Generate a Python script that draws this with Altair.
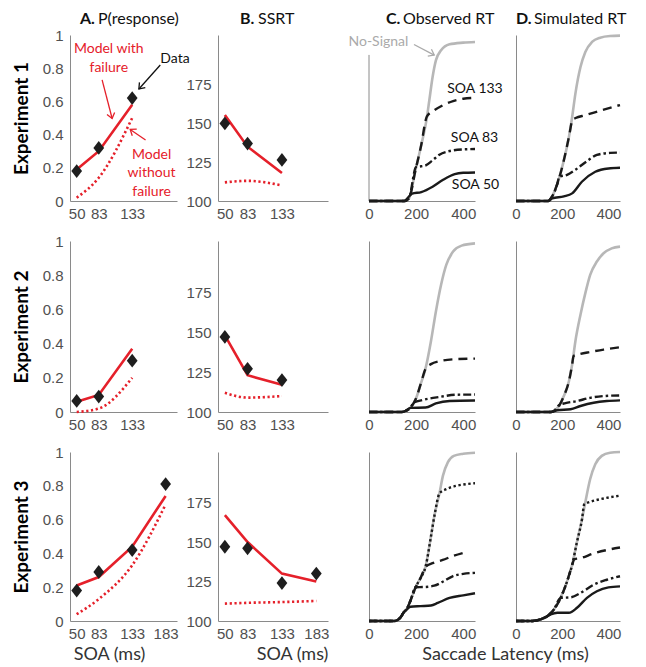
import math
import altair as alt
import pandas as pd

# ---------------- Columns A & B : summary values ----------------
SOA_E1 = [50, 83, 133]
SOA_E2 = [50, 83, 133]
SOA_E3 = [50, 83, 133, 183]

E1_P_DATA = [0.18, 0.32, 0.62]
E1_P_FAIL = [0.19, 0.30, 0.58]
E1_P_NOFAIL = [0.02, 0.14, 0.50]
E1_SSRT_DATA = [150, 137, 126.5]
E1_SSRT_FAIL = [155.5, 135, 118]
E1_SSRT_NOFAIL = [112, 113, 110]

E2_P_DATA = [0.065, 0.09, 0.30]
E2_P_FAIL = [0.06, 0.10, 0.37]
E2_P_NOFAIL = [0.0, 0.02, 0.20]
E2_SSRT_DATA = [147, 127, 120]
E2_SSRT_FAIL = [148, 123, 117]
E2_SSRT_NOFAIL = [112, 109, 110]

E3_P_DATA = [0.18, 0.29, 0.42, 0.81]
E3_P_FAIL = [0.21, 0.26, 0.44, 0.74]
E3_P_NOFAIL = [0.04, 0.13, 0.33, 0.69]
E3_SSRT_DATA = [147, 146, 124, 130]
E3_SSRT_FAIL = [167, 150, 130, 125]
E3_SSRT_NOFAIL = [111, 111.5, 112, 112.7]

# ---------------- Columns C & D : latency distributions ----------------
# Experiment 1, observed
C1_NS_T = [0, 150, 169, 198, 220, 246, 256, 270, 284, 306, 342, 400, 450]
C1_NS_P = [0, 0, 0.014, 0.19, 0.325, 0.505, 0.606, 0.747, 0.847, 0.908, 0.944, 0.954, 0.958]
C1_133_T = [0, 150, 169, 198, 220, 246, 277, 313, 357, 400, 450]
C1_133_P = [0, 0, 0.014, 0.19, 0.325, 0.51, 0.546, 0.576, 0.602, 0.616, 0.622]
C1_83_T = [0, 150, 169, 200, 222, 241, 270, 299, 342, 400, 450]
C1_83_P = [0, 0, 0.014, 0.205, 0.209, 0.215, 0.245, 0.279, 0.301, 0.311, 0.313]
C1_50_T = [0, 150, 164, 183, 222, 270, 313, 364, 400, 450]
C1_50_P = [0, 0, 0.018, 0.044, 0.054, 0.086, 0.126, 0.162, 0.17, 0.172]
# Experiment 1, simulated
D1_NS_T = [0, 140, 150, 179, 207, 229, 243, 257, 279, 300, 329, 364, 407, 450]
D1_NS_P = [0, 0, 0.014, 0.104, 0.245, 0.386, 0.506, 0.647, 0.807, 0.898, 0.958, 0.984, 0.994, 0.996]
D1_133_T = [0, 140, 150, 179, 207, 229, 245, 258, 300, 371, 450]
D1_133_P = [0, 0, 0.014, 0.104, 0.245, 0.386, 0.49, 0.50, 0.517, 0.547, 0.578]
D1_83_T = [0, 140, 150, 179, 187, 221, 264, 307, 350, 407, 450]
D1_83_P = [0, 0, 0.014, 0.104, 0.145, 0.158, 0.195, 0.24, 0.278, 0.29, 0.292]
D1_50_T = [0, 140, 157, 207, 243, 285, 343, 400, 450]
D1_50_P = [0, 0, 0.016, 0.028, 0.046, 0.116, 0.176, 0.196, 0.2]
# Experiment 2, observed
C2_NS_T = [0, 140, 155, 176, 198, 219, 241, 263, 284, 306, 328, 357, 393, 450]
C2_NS_P = [0, 0, 0.006, 0.025, 0.074, 0.161, 0.26, 0.414, 0.588, 0.744, 0.86, 0.938, 0.973, 0.986]
C2_133_T = [0, 140, 155, 176, 198, 219, 241, 263, 299, 357, 450]
C2_133_P = [0, 0, 0.006, 0.025, 0.074, 0.161, 0.255, 0.28, 0.297, 0.308, 0.312]
C2_83_T = [0, 140, 155, 176, 190, 227, 299, 371, 450]
C2_83_P = [0, 0, 0.006, 0.025, 0.055, 0.07, 0.088, 0.101, 0.102]
C2_50_T = [0, 140, 155, 176, 240, 284, 342, 450]
C2_50_P = [0, 0, 0.006, 0.024, 0.026, 0.05, 0.064, 0.067]
# Experiment 2, simulated
D2_NS_T = [0, 150, 164, 186, 207, 229, 243, 257, 279, 300, 321, 350, 379, 414, 450]
D2_NS_P = [0, 0, 0.006, 0.035, 0.093, 0.18, 0.278, 0.414, 0.569, 0.695, 0.802, 0.88, 0.928, 0.957, 0.967]
D2_133_T = [0, 150, 164, 186, 207, 229, 243, 249, 279, 321, 379, 450]
D2_133_P = [0, 0, 0.006, 0.035, 0.093, 0.18, 0.278, 0.328, 0.34, 0.351, 0.365, 0.379]
D2_83_T = [0, 150, 164, 186, 214, 264, 321, 379, 450]
D2_83_P = [0, 0, 0.006, 0.04, 0.052, 0.064, 0.083, 0.093, 0.097]
D2_50_T = [0, 150, 179, 236, 279, 336, 393, 450]
D2_50_P = [0, 0, 0.01, 0.016, 0.035, 0.054, 0.064, 0.068]
# Experiment 3, observed
C3_NS_T = [0, 105, 118, 133, 147, 162, 176, 198, 219, 240, 263, 280, 299, 314, 335, 360, 400, 450]
C3_NS_P = [0, 0, 0.004, 0.02, 0.05, 0.075, 0.12, 0.20, 0.255, 0.32, 0.50, 0.64, 0.755, 0.86, 0.94, 0.977, 0.99, 0.996]
C3_183_T = [0, 105, 118, 133, 147, 162, 176, 198, 219, 240, 263, 280, 299, 328, 371, 414, 450]
C3_183_P = [0, 0, 0.004, 0.02, 0.05, 0.075, 0.12, 0.20, 0.255, 0.32, 0.50, 0.64, 0.755, 0.78, 0.80, 0.81, 0.815]
C3_133_T = [0, 105, 118, 133, 147, 162, 176, 198, 219, 240, 270, 313, 357, 405]
C3_133_P = [0, 0, 0.004, 0.02, 0.05, 0.075, 0.12, 0.20, 0.255, 0.32, 0.342, 0.361, 0.385, 0.405]
C3_83_T = [0, 105, 118, 133, 147, 162, 176, 198, 234, 277, 313, 357, 400, 450]
C3_83_P = [0, 0, 0.004, 0.02, 0.05, 0.075, 0.12, 0.20, 0.201, 0.209, 0.232, 0.266, 0.279, 0.285]
C3_50_T = [0, 105, 118, 133, 147, 162, 176, 219, 263, 292, 342, 400, 450]
C3_50_P = [0, 0, 0.004, 0.02, 0.05, 0.07, 0.084, 0.088, 0.092, 0.107, 0.137, 0.152, 0.164]
# Experiment 3, simulated
D3_NS_T = [0, 71, 107, 136, 164, 193, 221, 243, 264, 286, 300, 321, 343, 371, 407, 450]
D3_NS_P = [0, 0, 0.01, 0.029, 0.068, 0.137, 0.234, 0.332, 0.469, 0.605, 0.703, 0.84, 0.928, 0.977, 0.996, 1.0]
D3_183_T = [0, 71, 107, 136, 164, 193, 221, 243, 264, 286, 295, 321, 379, 450]
D3_183_P = [0, 0, 0.01, 0.029, 0.068, 0.137, 0.234, 0.332, 0.469, 0.605, 0.69, 0.705, 0.725, 0.742]
D3_133_T = [0, 71, 107, 136, 164, 193, 221, 243, 252, 279, 336, 393, 450]
D3_133_P = [0, 0, 0.01, 0.029, 0.068, 0.137, 0.234, 0.332, 0.365, 0.372, 0.40, 0.42, 0.435]
D3_83_T = [0, 71, 107, 136, 164, 193, 236, 279, 336, 393, 450]
D3_83_P = [0, 0, 0.01, 0.029, 0.068, 0.137, 0.14, 0.166, 0.215, 0.244, 0.265]
D3_50_T = [0, 71, 107, 136, 150, 179, 229, 264, 307, 350, 400, 450]
D3_50_P = [0, 0, 0.01, 0.029, 0.039, 0.049, 0.049, 0.078, 0.137, 0.176, 0.199, 0.205]

# ---------------- annotations ----------------
A1_RED_TEXT = ["Model with", "failure", "Model", "without", "failure"]
A1_RED_X = [98, 98, 162, 162, 162]
A1_RED_Y = [0.917, 0.803, 0.279, 0.17, 0.056]
A1_BLACK_TEXT = ["Data"]
A1_BLACK_X = [197]
A1_BLACK_Y = [0.857]
C1_LABEL_TEXT = ["SOA 133", "SOA 83", "SOA 50"]
C1_LABEL_X = [450, 448, 452]
C1_LABEL_Y = [0.672, 0.377, 0.096]
C1_NS_TEXT = ["No-Signal"]
C1_NS_X = [40]
C1_NS_Y = [0.96]

COL_LETTERS = ["A.", "B.", "C.", "D."]
COL_NAMES = ["P(response)", "SSRT", "Observed RT", "Simulated RT"]

# ---------------- styling ----------------
RED = "#e5202a"
BLACK = "#1a1a1a"
GRAY = "#b7b7b7"
AXIS_C = "#8a8a8a"
LABEL_C = "#505050"
TFONT = "Lato"
LFONT = "Liberation Sans"

W_A, W_B, W_C, W_D = 107, 110, 106, 104
ROW_H = [166, 171, 169]
SOA_DOM = [40, 200]
P_DOM = [0, 1]
SSRT_DOM = [100, 207]
T_DOM = [0, 450]
F_DOM = [0, 1]


def frame(xs, ys, labels=None):
    d = {"x": xs, "y": ys}
    if labels is not None:
        d["label"] = labels
    return pd.DataFrame(d)


def base_axis(**kw):
    d = dict(labelFont=LFONT, labelFontSize=15, labelColor=LABEL_C, ticks=False,
             grid=False, domainColor=AXIS_C, domainWidth=1, labelOverlap=False,
             labelFlush=False)
    d.update(kw)
    return alt.Axis(**d)


def encs(xdom, ydom, xaxis, yaxis):
    return (alt.X("x:Q", scale=alt.Scale(domain=xdom, nice=False, zero=False), axis=xaxis),
            alt.Y("y:Q", scale=alt.Scale(domain=ydom, nice=False, zero=False), axis=yaxis))


def text_layer(df, ex, ey, color, size, align="center", weight="normal"):
    return alt.Chart(df).mark_text(color=color, fontSize=size, font=TFONT, fontWeight=weight,
                                   align=align, baseline="middle").encode(x=ex, y=ey, text="label:N")


def arrow(x0, y0, x1, y1, ex, ey, xdom, ydom, w, h, color):
    df = pd.DataFrame({"x": [x0], "y": [y0], "x2": [x1], "y2": [y1]})
    shaft = alt.Chart(df).mark_rule(color=color, strokeWidth=1.3).encode(
        x=ex, y=ey, x2="x2:Q", y2="y2:Q")
    dx = (x1 - x0) / (xdom[1] - xdom[0]) * w
    dy = -(y1 - y0) / (ydom[1] - ydom[0]) * h
    ang = math.degrees(math.atan2(dy, dx)) % 360
    head = alt.Chart(frame([x1], [y1])).mark_point(
        shape="M-1,-0.75L0,0L-1,0.75", angle=ang, size=110, color=color, filled=False,
        strokeWidth=1.3, opacity=1).encode(x=ex, y=ey)
    return [shaft, head]


def col_title(i, x_letter, x_name):
    df = pd.DataFrame({"label": [COL_LETTERS[i]], "name": [COL_NAMES[i]]})
    a = alt.Chart(df).mark_text(font=TFONT, fontSize=16, fontWeight="bold", color="#111",
                                align="left", baseline="alphabetic").encode(
        x=alt.value(x_letter), y=alt.value(-11), text="label:N")
    b = alt.Chart(df).mark_text(font=TFONT, fontSize=16, color="#111",
                                align="left", baseline="alphabetic").encode(
        x=alt.value(x_name), y=alt.value(-11), text="name:N")
    return [a, b]


def soa_panel(kind, r, soas, dvals, fvals, nfvals):
    h = ROW_H[r - 1]
    w = W_A if kind == "A" else W_B
    xkw = dict(values=soas, labelPadding=5)
    if r == 3:
        xkw.update(title="SOA (ms)", titleFont=TFONT, titleFontSize=18, titleFontWeight="normal",
                   titleColor="#333", titlePadding=4, titleAlign="center",
                   titleX=39 if kind == "A" else 74)
    else:
        xkw["title"] = None
    if kind == "A":
        ydom = P_DOM
        yaxis = base_axis(values=[0, 0.2, 0.4, 0.6, 0.8, 1], format=".1~f", labelPadding=7,
                          title="Experiment %d" % r, titleFont=TFONT, titleFontSize=19,
                          titleFontWeight="bold", titleColor="#000", titlePadding=11)
    else:
        ydom = SSRT_DOM
        yaxis = base_axis(values=[100, 125, 150, 175], labelPadding=7, title=None)
    ex, ey = encs(SOA_DOM, ydom, base_axis(**xkw), yaxis)
    layers = [
        alt.Chart(frame(soas, nfvals)).mark_line(color=RED, strokeWidth=2.6, strokeDash=[2.2, 2.6],
                                                 interpolate="monotone").encode(x=ex, y=ey),
        alt.Chart(frame(soas, fvals)).mark_line(color=RED, strokeWidth=2.6).encode(x=ex, y=ey),
        alt.Chart(frame(soas, dvals)).mark_point(shape="M0,-1L0.78,0L0,1L-0.78,0Z", filled=True,
                                                 color="#1e1e1e", size=190, opacity=1).encode(x=ex, y=ey),
    ]
    if r == 1 and kind == "A":
        layers.append(text_layer(frame(A1_RED_X, A1_RED_Y, A1_RED_TEXT), ex, ey, RED, 14))
        layers.append(text_layer(frame(A1_BLACK_X, A1_BLACK_Y, A1_BLACK_TEXT), ex, ey, "#111", 14))
        layers += arrow(88, 0.73, 103, 0.497, ex, ey, SOA_DOM, ydom, w, h, RED)
        layers += arrow(153, 0.367, 130, 0.431, ex, ey, SOA_DOM, ydom, w, h, RED)
        layers += arrow(175, 0.819, 143, 0.675, ex, ey, SOA_DOM, ydom, w, h, "#111")
        layers += col_title(0, 10, 28)
    if r == 1 and kind == "B":
        layers += col_title(1, 22, 40)
    return alt.layer(*layers).properties(width=w, height=h)


STYLES = {
    "ns": dict(color=GRAY, strokeWidth=2.6),
    "50": dict(color=BLACK, strokeWidth=2.4),
    "83": dict(color=BLACK, strokeWidth=2.4, strokeDash=[8, 3, 2.5, 3]),
    "133": dict(color=BLACK, strokeWidth=2.4, strokeDash=[9, 6]),
    "183": dict(color=BLACK, strokeWidth=2.4, strokeDash=[2.4, 2.6]),
}


def cdf_panel(kind, r, curves):
    h = ROW_H[r - 1]
    w = W_C if kind == "C" else W_D
    xkw = dict(values=[0, 200, 400], labelPadding=5)
    if r == 3 and kind == "C":
        xkw.update(title="Saccade Latency (ms)", titleFont=TFONT, titleFontSize=18,
                   titleFontWeight="normal", titleColor="#333", titlePadding=4,
                   titleAlign="center", titleX=136)
    else:
        xkw["title"] = None
    short = (r == 1 and kind == "C")
    yaxis = alt.Axis(labels=False, ticks=False, title=None, grid=False, domain=not short,
                     domainColor=AXIS_C, domainWidth=1)
    ex, ey = encs(T_DOM, F_DOM, base_axis(**xkw), yaxis)
    layers = []
    if short:
        layers.append(alt.Chart(pd.DataFrame({"x": [0], "y": [0], "y2": [0.88]})).mark_rule(
            color=AXIS_C, strokeWidth=1).encode(x=ex, y=ey, y2="y2:Q"))
    for t, p, st in curves:
        layers.append(alt.Chart(frame(t, p)).mark_line(interpolate="monotone", **STYLES[st]).encode(x=ex, y=ey))
    if short:
        layers.append(text_layer(frame(C1_NS_X, C1_NS_Y, C1_NS_TEXT), ex, ey, "#aaaaaa", 14))
        layers += arrow(191, 0.943, 277, 0.879, ex, ey, T_DOM, F_DOM, w, h, "#aaaaaa")
        layers.append(text_layer(frame(C1_LABEL_X, C1_LABEL_Y, C1_LABEL_TEXT), ex, ey, "#111", 14))
        layers += col_title(2, 17, 34)
    if r == 1 and kind == "D":
        layers += col_title(3, 0, 18)
    return alt.layer(*layers).properties(width=w, height=h)


def row(r, soas, pd_, pf, pnf, sd, sf, snf, c_curves, d_curves):
    return [soa_panel("A", r, soas, pd_, pf, pnf),
            soa_panel("B", r, soas, sd, sf, snf),
            cdf_panel("C", r, c_curves),
            cdf_panel("D", r, d_curves)]


panels = []
panels += row(1, SOA_E1, E1_P_DATA, E1_P_FAIL, E1_P_NOFAIL, E1_SSRT_DATA, E1_SSRT_FAIL, E1_SSRT_NOFAIL,
              [(C1_NS_T, C1_NS_P, "ns"), (C1_50_T, C1_50_P, "50"), (C1_83_T, C1_83_P, "83"),
               (C1_133_T, C1_133_P, "133")],
              [(D1_NS_T, D1_NS_P, "ns"), (D1_50_T, D1_50_P, "50"), (D1_83_T, D1_83_P, "83"),
               (D1_133_T, D1_133_P, "133")])
panels += row(2, SOA_E2, E2_P_DATA, E2_P_FAIL, E2_P_NOFAIL, E2_SSRT_DATA, E2_SSRT_FAIL, E2_SSRT_NOFAIL,
              [(C2_NS_T, C2_NS_P, "ns"), (C2_50_T, C2_50_P, "50"), (C2_83_T, C2_83_P, "83"),
               (C2_133_T, C2_133_P, "133")],
              [(D2_NS_T, D2_NS_P, "ns"), (D2_50_T, D2_50_P, "50"), (D2_83_T, D2_83_P, "83"),
               (D2_133_T, D2_133_P, "133")])
panels += row(3, SOA_E3, E3_P_DATA, E3_P_FAIL, E3_P_NOFAIL, E3_SSRT_DATA, E3_SSRT_FAIL, E3_SSRT_NOFAIL,
              [(C3_NS_T, C3_NS_P, "ns"), (C3_50_T, C3_50_P, "50"), (C3_83_T, C3_83_P, "83"),
               (C3_133_T, C3_133_P, "133"), (C3_183_T, C3_183_P, "183")],
              [(D3_NS_T, D3_NS_P, "ns"), (D3_50_T, D3_50_P, "50"), (D3_83_T, D3_83_P, "83"),
               (D3_133_T, D3_133_P, "133"), (D3_183_T, D3_183_P, "183")])

chart = alt.concat(*panels, columns=4, spacing={"row": 40, "column": 41},
                   bounds="flush", align="each").properties(
    padding={"left": 4, "top": 3, "right": 0, "bottom": 0}, background="white"
).configure_view(strokeWidth=0)

chart.save("out.html", embed_options={"renderer": "svg", "actions": False})
